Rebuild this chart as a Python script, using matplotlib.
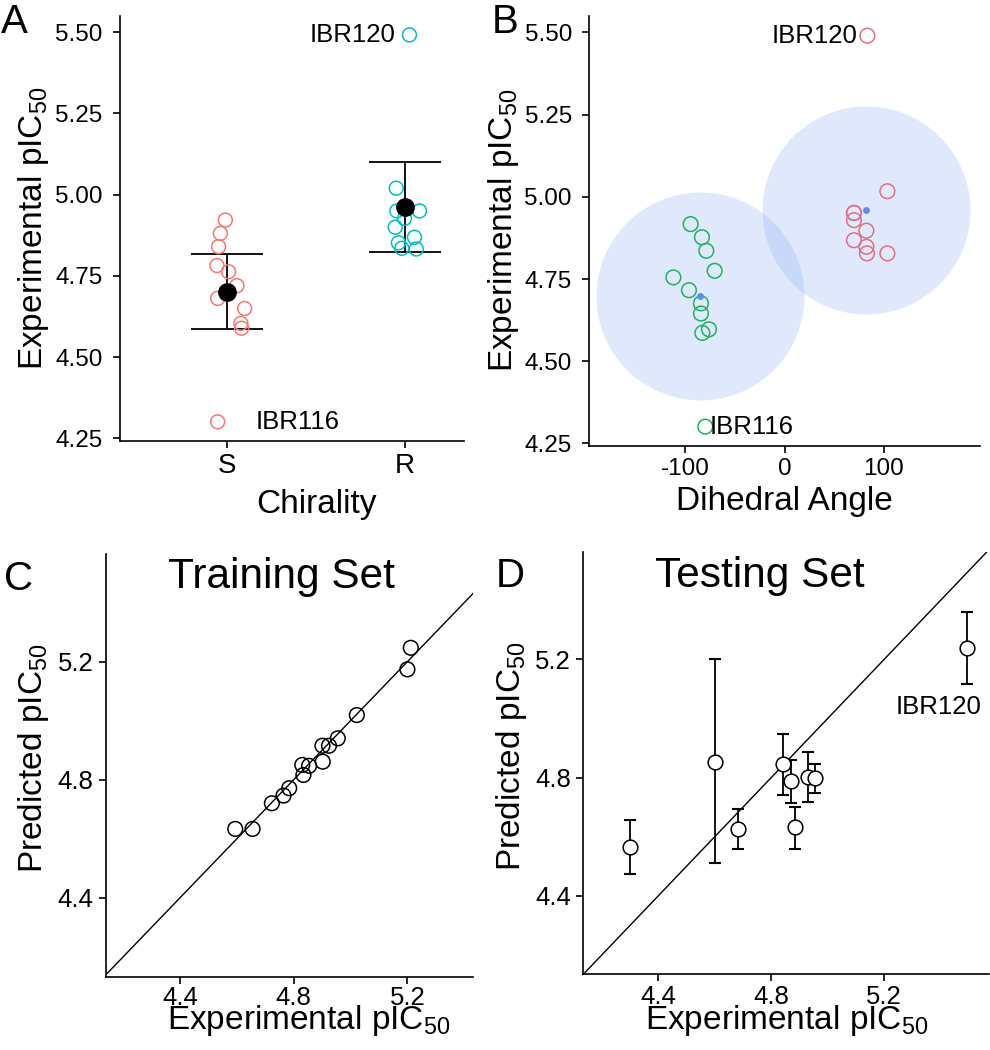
import numpy as np
import matplotlib
matplotlib.use("Agg")
import matplotlib.pyplot as plt

plt.rcParams['font.family'] = ['Liberation Sans', 'DejaVu Sans']
plt.rcParams['mathtext.fontset'] = 'custom'
plt.rcParams['mathtext.rm'] = 'Liberation Sans'
plt.rcParams['mathtext.it'] = 'Liberation Sans'
plt.rcParams['mathtext.default'] = 'regular'
plt.rcParams['xtick.labelsize'] = 17.5
plt.rcParams['ytick.labelsize'] = 17.5

# --- Panel A: chirality ---
chir_cats = ['S', 'R']
s_jit = [-0.009, -0.037, -0.047, -0.056, 0.009, 0.056, -0.052, 0.099, 0.078, 0.082, -0.052]
s_vals = [4.922, 4.881, 4.840, 4.782, 4.763, 4.720, 4.681, 4.650, 4.604, 4.589, 4.301]
r_jit = [-0.050, -0.047, 0.080, -0.004, -0.056, 0.052, -0.038, -0.019, 0.062, 0.024]
r_vals = [5.020, 4.950, 4.950, 4.927, 4.900, 4.869, 4.852, 4.835, 4.833, 5.492]
chir_mean = [4.702, 4.962]
chir_lo = [4.587, 4.823]
chir_hi = [4.818, 5.102]

# --- Panel B: dihedral angle ---
g_angle = [-94.8, -83.4, -79.0, -70.6, -112.2, -96.5, -84.4, -84.4, -76.3, -83.0, -80.0]
g_pic = [4.917, 4.877, 4.836, 4.775, 4.755, 4.716, 4.676, 4.645, 4.597, 4.586, 4.301]
r_angle = [103.6, 69.9, 69.9, 69.9, 82.4, 69.9, 82.4, 83.0, 103.6, 83.4]
r_pic = [5.017, 4.951, 4.951, 4.929, 4.897, 4.868, 4.848, 4.828, 4.828, 5.490]
clust_x = [-85.7, 81.7]
clust_y = [4.697, 4.959]

# --- Panel C: training set ---
train_exp = [4.594, 4.655, 4.723, 4.764, 4.784, 4.834, 4.830, 4.854, 4.902, 4.901, 4.924, 4.955, 5.022, 5.200, 5.212]
train_pred = [4.633, 4.633, 4.720, 4.746, 4.771, 4.816, 4.850, 4.847, 4.861, 4.915, 4.915, 4.940, 5.019, 5.174, 5.247]

# --- Panel D: testing set ---
test_exp = [4.300, 4.601, 4.682, 4.841, 4.871, 4.885, 4.929, 4.955, 5.494]
test_pred = [4.564, 4.854, 4.626, 4.845, 4.789, 4.632, 4.801, 4.798, 5.239]
test_hi = [4.657, 5.201, 4.695, 4.946, 4.860, 4.702, 4.887, 4.847, 5.361]
test_lo = [4.474, 4.510, 4.560, 4.741, 4.715, 4.560, 4.718, 4.747, 5.115]

red = '#F8766D'
cyan = '#00BFC4'
green = '#1DB45A'
pink = '#E0707E'

ylab = 'Experimental pIC$_{50}$'
plab = 'Predicted pIC$_{50}$'
pic_ticks = [4.25, 4.50, 4.75, 5.00, 5.25, 5.50]

fig = plt.figure(figsize=(9.9, 10.5), dpi=100)
W, H = 990, 1050


def make_ax(l, r, t, b):
    ax = fig.add_axes([l / W, 1 - b / H, (r - l) / W, (b - t) / H])
    for s in ['top', 'right']:
        ax.spines[s].set_visible(False)
    for s in ['left', 'bottom']:
        ax.spines[s].set_linewidth(1.2)
    ax.tick_params(width=1.2, length=5, color='black')
    return ax


# Panel A
axA = make_ax(120, 464, 16, 441)
axA.errorbar([1, 2], chir_mean,
             yerr=[np.array(chir_mean) - np.array(chir_lo), np.array(chir_hi) - np.array(chir_mean)],
             fmt='none', ecolor='black', elinewidth=1.3, capsize=25.7, capthick=1.3, zorder=1)
axA.scatter(1 + np.array(s_jit), s_vals, s=100, facecolors='none', edgecolors=red, linewidths=1.1, zorder=2)
axA.scatter(2 + np.array(r_jit), r_vals, s=100, facecolors='none', edgecolors=cyan, linewidths=1.1, zorder=2)
axA.plot([1, 2], chir_mean, 'o', color='black', markersize=12.5, linestyle='none', zorder=3)
axA.annotate('IBR120', (2 + r_jit[-1], r_vals[-1]), xytext=(-10, 0), textcoords='offset points',
             ha='right', va='center', fontsize=18.5)
axA.annotate('IBR116', (1 + s_jit[-1], s_vals[-1]), xytext=(27, 0), textcoords='offset points',
             ha='left', va='center', fontsize=18.5)
axA.set_xlim(0.40, 2.33)
axA.set_ylim(4.242, 5.55)
axA.set_xticks([1, 2], chir_cats, fontsize=20)
axA.set_yticks(pic_ticks, ['%.2f' % v for v in pic_ticks], fontsize=17.5)
axA.tick_params(axis='y', pad=7.5)
axA.tick_params(axis='x', pad=4)
axA.set_xlabel('Chirality', fontsize=24, va='baseline')
axA.xaxis.set_label_coords(0.570, -0.1694)
axA.set_ylabel(ylab, fontsize=24, va='baseline')
axA.yaxis.set_label_coords(-0.2276, 0.501)

# Panel B
axB = make_ax(589.3, 980, 16, 445.7)
axB.scatter(clust_x, clust_y, s=22430, color='cornflowerblue', alpha=0.2, linewidths=0, zorder=1)
axB.scatter(g_angle, g_pic, s=112, facecolors='none', edgecolors=green, linewidths=1.1, zorder=2)
axB.scatter(r_angle, r_pic, s=112, facecolors='none', edgecolors=pink, linewidths=1.1, zorder=2)
axB.scatter(clust_x, clust_y, s=25, color='#5B8DF0', linewidths=0, zorder=3)
axB.annotate('IBR120', (r_angle[-1], r_pic[-1]), xytext=(-7, 0), textcoords='offset points',
             ha='right', va='center', fontsize=18.5)
axB.annotate('IBR116', (g_angle[-1], g_pic[-1]), xytext=(3, 0), textcoords='offset points',
             ha='left', va='center', fontsize=18.5)
axB.set_xlim(-197, 197)
axB.set_ylim(4.243, 5.55)
axB.set_xticks([-100, 0, 100], ['-100', '0', '100'], fontsize=17.5)
axB.set_yticks(pic_ticks, ['%.2f' % v for v in pic_ticks], fontsize=17.5)
axB.tick_params(axis='y', pad=7.5)
axB.tick_params(axis='x', pad=4)
axB.set_xlabel('Dihedral Angle', fontsize=24, va='baseline')
axB.xaxis.set_label_coords(0.5, -0.1496)
axB.set_ylabel(ylab, fontsize=24, va='baseline')
axB.yaxis.set_label_coords(-0.1986, 0.502)

# Panel C
axC = make_ax(105.7, 473.3, 554.3, 976.7)
axC.axline((4.4, 4.4), slope=1, color='black', linewidth=1.0, zorder=1)
axC.scatter(train_exp, train_pred, s=112, facecolors='none', edgecolors='black', linewidths=1.1, zorder=2)
axC.set_xlim(4.138, 5.432)
axC.set_ylim(4.132, 5.564)
axC.set_xticks([4.4, 4.8, 5.2], ['4.4', '4.8', '5.2'], fontsize=18.5)
axC.set_yticks([4.4, 4.8, 5.2], ['4.4', '4.8', '5.2'], fontsize=18.5)
axC.tick_params(axis='y', pad=4)
axC.tick_params(axis='x', pad=2)
axC.set_xlabel(ylab, fontsize=24, va='baseline')
axC.xaxis.set_label_coords(0.553, -0.124)
axC.set_ylabel(plab, fontsize=24, va='baseline')
axC.yaxis.set_label_coords(-0.1741, 0.518)

# Panel D
axD = make_ax(583.3, 989, 552.3, 974.3)
axD.axline((4.4, 4.4), slope=1, color='black', linewidth=1.0, zorder=1)
axD.errorbar(test_exp, test_pred,
             yerr=[np.array(test_pred) - np.array(test_lo), np.array(test_hi) - np.array(test_pred)],
             fmt='none', ecolor='black', elinewidth=1.3, capsize=4, capthick=1.5, zorder=2)
axD.scatter(test_exp, test_pred, s=112, facecolors='white', edgecolors='black', linewidths=1.1, zorder=3)
axD.annotate('IBR120', (test_exp[-1], test_pred[-1]), xytext=(-20.4, -42.5), textcoords='offset points',
             ha='center', va='center', fontsize=18.5)
axD.set_xlim(4.135, 5.571)
axD.set_ylim(4.135, 5.562)
axD.set_xticks([4.4, 4.8, 5.2], ['4.4', '4.8', '5.2'], fontsize=18.5)
axD.set_yticks([4.4, 4.8, 5.2], ['4.4', '4.8', '5.2'], fontsize=18.5)
axD.tick_params(axis='y', pad=4)
axD.tick_params(axis='x', pad=3)
axD.set_xlabel(ylab, fontsize=24, va='baseline')
axD.xaxis.set_label_coords(0.502, -0.130)
axD.set_ylabel(plab, fontsize=24, va='baseline')
axD.yaxis.set_label_coords(-0.1556, 0.518)

# titles and panel letters
fig.text(168.3 / W, 1 - 588.3 / H, 'Training Set', fontsize=30.5, ha='left', va='baseline')
fig.text(655 / W, 1 - 586.7 / H, 'Testing Set', fontsize=30.5, ha='left', va='baseline')
fig.text(1 / W, 1 - 33.3 / H, 'A', fontsize=29, ha='left', va='baseline')
fig.text(492 / W, 1 - 33 / H, 'B', fontsize=29, ha='left', va='baseline')
fig.text(4 / W, 1 - 590 / H, 'C', fontsize=29, ha='left', va='baseline')
fig.text(496 / W, 1 - 587 / H, 'D', fontsize=29, ha='left', va='baseline')

fig.savefig('out.png', dpi=100)
